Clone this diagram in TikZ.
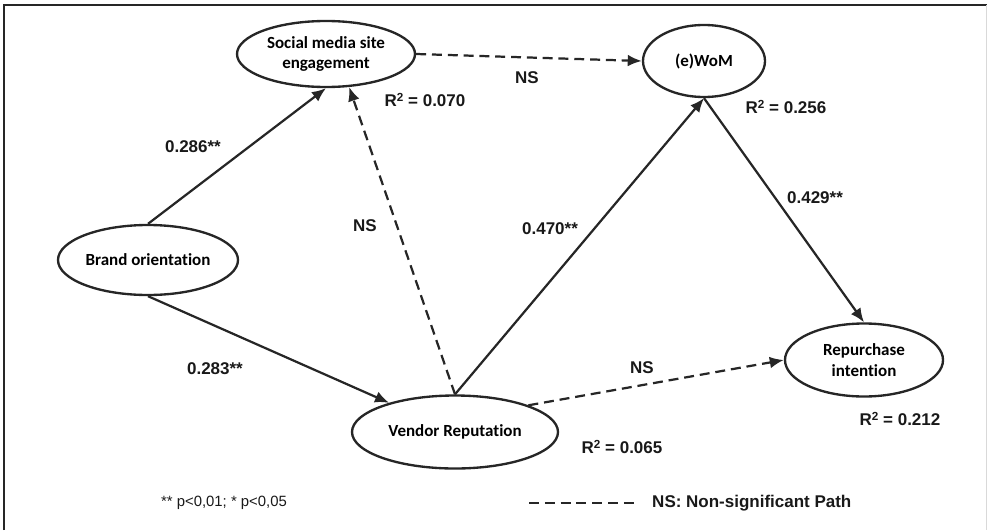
\documentclass[tikz,border=0pt]{standalone}
\usepackage{fontspec}
\setmainfont{Liberation Sans}
\newfontfamily\calibri[Ligatures=NoCommon]{Carlito}
\usetikzlibrary{shapes.geometric}
\usetikzlibrary{arrows.meta}
\newcommand{\rsq}{R\raisebox{0.55ex}{\fontsize{10}{10}\selectfont 2}}
\tikzset{%
    latent/.style={ellipse,draw=black!85,line width=2pt,inner sep=0pt,align=center,font=\calibri\bfseries\fontsize{14.5}{17.5}\selectfont},
    effect/.style={-{Latex[length=12pt,width=10pt]},line width=1.9pt,draw=black!85},
    nseffect/.style={effect,dash pattern=on 8.5pt off 5pt},
    coef/.style={font=\bfseries\fontsize{14.5}{17}\selectfont,text=black!90},
}

\begin{document}
\begin{tikzpicture}
	
	\def \k {0.03}
	\useasboundingbox (0,0) rectangle (987*\k,-530*\k);
	
	%frame
	\draw[line width=1.8pt,black!85]  (4*\k,-530*\k) -- (4*\k,-5*\k) -- (987*\k,-5*\k);
	\draw[line width=0.8pt,black!15]  (986*\k,-5*\k) -- (986*\k,-530*\k);
	%%%%%%%%%%%%%%%%%%%
	
	\node[latent,minimum width=5.4cm,minimum height=2.1cm]   (brand)  at (148*\k,-260*\k) {Brand orientation};
	\node[latent,minimum width=5.34cm,minimum height=1.98cm] (social) at (326*\k,-54*\k)  {Social media site\\engagement};
	\node[latent,minimum width=6.18cm,minimum height=2.19cm] (vendor) at (455*\k,-432*\k) {Vendor Reputation};
	\node[latent,minimum width=3.66cm,minimum height=2.16cm] (wom)    at (704*\k,-61*\k)  {(e)WoM};
	\node[latent,minimum width=4.74cm,minimum height=2.19cm] (repurchase) at (864*\k,-360*\k) {Repurchase\\intention};
	
	\draw[effect]    (brand.north)  -- (social.south);
	\draw[effect]    (brand.south)  -- (vendor);
	\draw[nseffect]  (vendor.north) -- (social.-55);
	\draw[effect]    (vendor.north) -- (wom.south);
	\draw[nseffect]  (social.east)  -- (wom.west);
	\draw[effect]    (wom.south)    -- (repurchase.north);
	\draw[nseffect]  (vendor.20)    -- (repurchase.west);
	
	%path coefficients
	\node[coef] (c286)  at (193*\k,-147*\k) {0.286**};
	\node[coef] (c283)  at (215*\k,-369*\k) {0.283**};
	\node[coef] (c470)  at (550*\k,-229*\k) {0.470**};
	\node[coef] (c429)  at (815*\k,-198*\k) {0.429**};
	\node[coef] (nsSV)  at (365*\k,-226*\k) {NS};
	\node[coef] (nsSW)  at (527*\k,-78*\k)  {NS};
	\node[coef] (nsVR)  at (642*\k,-368*\k) {NS};
	
	%explained variance
	\node[coef] (r2social) at (425*\k,-100*\k) {\rsq{} = 0.070};
	\node[coef] (r2wom)    at (786*\k,-107*\k) {\rsq{} = 0.256};
	\node[coef] (r2vendor) at (622*\k,-447*\k) {\rsq{} = 0.065};
	\node[coef] (r2rep)    at (900*\k,-419*\k) {\rsq{} = 0.212};
	
	%legend
	\node[font=\fontsize{12.7}{15}\selectfont,text=black!90] (pvals) at (224*\k,-503*\k) {** p<0,01; * p<0,05};
	\coordinate (legA) at (529*\k,-503*\k);
	\coordinate (legB) at (637*\k,-503*\k);
	\draw[line width=1.9pt,black!85,dash pattern=on 8.5pt off 5pt] (legA) -- (legB);
	\node[coef,anchor=west,inner sep=0pt] (legtext) at (652*\k,-503*\k) {NS: Non-significant Path};
	
\end{tikzpicture}
\end{document}
